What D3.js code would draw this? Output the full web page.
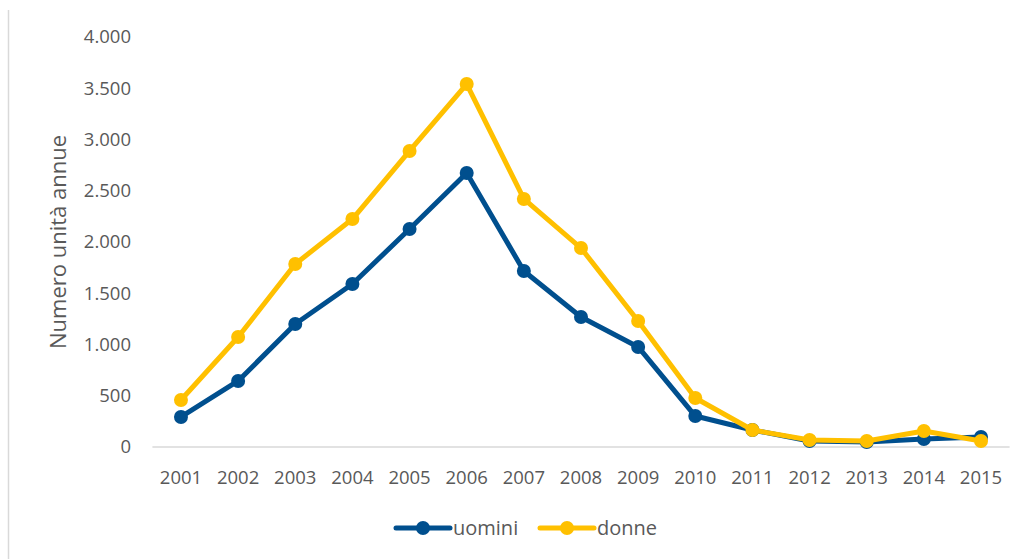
<!DOCTYPE html>
<html>
<head>
<meta charset="utf-8">
<script src="https://cdn.jsdelivr.net/npm/d3@7"></script>
<style>
  body { margin: 0; background: #fff; }
  text { font-family: "Open Sans", "Noto Sans", sans-serif; fill: #595959; }
</style>
</head>
<body>
<div id="chart"></div>
<script>
// data
var anni = ["2001","2002","2003","2004","2005","2006","2007","2008","2009","2010","2011","2012","2013","2014","2015"];
var uomini = [293, 644, 1200, 1590, 2127, 2673, 1717, 1268, 976, 302, 166, 59, 49, 78, 98];
var donne = [459, 1073, 1785, 2224, 2888, 3541, 2420, 1941, 1229, 478, 166, 68, 59, 156, 59];
var yTicks = [0, 500, 1000, 1500, 2000, 2500, 3000, 3500, 4000];

var W = 1027, H = 559;
var margin = {top: 37, left: 152.4, right: 17.4, bottom: 112};

var svg = d3.select("#chart").append("svg")
  .attr("width", W).attr("height", H);

// frame edge on the left
svg.append("line")
  .attr("x1", 8.5).attr("x2", 8.5).attr("y1", 10).attr("y2", H)
  .attr("stroke", "#d9d9d9").attr("stroke-width", 1.5);

var x = d3.scaleBand().domain(anni).range([margin.left, W - margin.right]);
var y = d3.scaleLinear().domain([0, 4000]).range([H - margin.bottom, margin.top]);

var fmt = d3.formatLocale({decimal: ",", thousands: ".", grouping: [3], currency: ["", "€"]}).format(",");

// y tick labels
svg.append("g").selectAll("text")
  .data(yTicks).enter().append("text")
  .attr("x", 131).attr("y", function(d) { return y(d); })
  .attr("dy", "0.35em")
  .attr("text-anchor", "end")
  .style("font-size", "18.5px")
  .text(function(d) { return fmt(d); });

// x axis baseline
svg.append("line")
  .attr("x1", margin.left).attr("x2", W - margin.right)
  .attr("y1", y(0)).attr("y2", y(0))
  .attr("stroke", "#d9d9d9").attr("stroke-width", 1.5);

svg.append("g").selectAll("text")
  .data(anni).enter().append("text")
  .attr("x", function(d) { return x(d) + x.bandwidth() / 2; })
  .attr("y", 478).attr("dy", "0.35em")
  .attr("text-anchor", "middle")
  .style("font-size", "18.5px")
  .text(function(d) { return d; });

// y title
svg.append("text")
  .attr("transform", "translate(58," + (y(0) + y(4000)) / 2 + ") rotate(-90)")
  .attr("text-anchor", "middle").attr("dy", "0.35em")
  .style("font-size", "22px")
  .text("Numero unità annue");

var series = [
  {name: "uomini", values: uomini, color: "#004f8e"},
  {name: "donne", values: donne, color: "#ffc000"}
];

var line = d3.line()
  .x(function(d, i) { return x(anni[i]) + x.bandwidth() / 2; })
  .y(function(d) { return y(d); });

series.forEach(function(s) {
  svg.append("path")
    .datum(s.values)
    .attr("d", line)
    .attr("fill", "none")
    .attr("stroke", s.color)
    .attr("stroke-width", 5)
    .attr("stroke-linejoin", "round");
  svg.append("g").selectAll("circle")
    .data(s.values).enter().append("circle")
    .attr("cx", function(d, i) { return x(anni[i]) + x.bandwidth() / 2; })
    .attr("cy", function(d) { return y(d); })
    .attr("r", 7)
    .attr("fill", s.color);
});

// legend
var legX = [396, 540];
series.forEach(function(s, i) {
  var g = svg.append("g").attr("transform", "translate(" + legX[i] + ",528)");
  g.append("line").attr("x1", 0).attr("x2", 54).attr("y1", 0).attr("y2", 0)
    .attr("stroke", s.color).attr("stroke-width", 5).attr("stroke-linecap", "round");
  g.append("circle").attr("cx", 27).attr("cy", 0).attr("r", 7).attr("fill", s.color);
  g.append("text").attr("x", 57).attr("y", 0).attr("dy", "0.35em")
    .style("font-size", "20px").text(s.name);
});
</script>
</body>
</html>
